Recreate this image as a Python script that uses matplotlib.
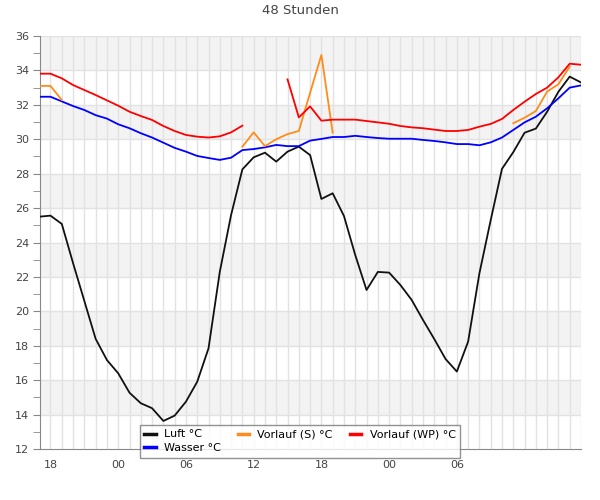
import matplotlib
matplotlib.use("Agg")
import matplotlib.pyplot as plt
import numpy as np

nan = np.nan

# hours relative to the first 18:00 tick
hours = list(range(-1, 48))

luft = [25.50, 25.56, 25.08, 22.80, 20.60, 18.40, 17.17, 16.40, 15.27, 14.66,
        14.37, 13.63, 13.94, 14.75, 15.91, 17.85, 22.30, 25.60, 28.25, 28.95,
        29.22, 28.70, 29.28, 29.57, 29.08, 26.53, 26.86, 25.54, 23.27, 21.24,
        22.29, 22.25, 21.53, 20.66, 19.50, 18.39, 17.23, 16.50, 18.24, 22.21,
        25.30, 28.28, 29.25, 30.38, 30.62, 31.60, 32.76, 33.64, 33.30]

wasser = [32.47, 32.47, 32.20, 31.93, 31.70, 31.40, 31.20, 30.87, 30.64, 30.35,
          30.10, 29.80, 29.50, 29.28, 29.03, 28.91, 28.80, 28.93, 29.37, 29.43,
          29.53, 29.67, 29.60, 29.60, 29.92, 30.02, 30.13, 30.13, 30.20, 30.13,
          30.07, 30.03, 30.03, 30.03, 29.96, 29.90, 29.82, 29.72, 29.72, 29.65,
          29.82, 30.10, 30.54, 30.98, 31.31, 31.80, 32.38, 33.00, 33.13]

vorlauf_s = [33.10, 33.10, 32.28, nan, nan, nan, nan, nan, nan, nan,
             nan, nan, nan, nan, nan, nan, nan, nan, 29.57, 30.40,
             29.60, 30.00, 30.30, 30.48, 32.70, 34.90, 30.38, nan, nan, nan,
             nan, nan, nan, nan, nan, nan, nan, nan, nan, nan,
             nan, nan, 30.93, 31.25, 31.64, 32.77, 33.20, 34.22, nan]

vorlauf_wp = [33.81, 33.81, 33.54, 33.15, 32.86, 32.57, 32.26, 31.95, 31.60, 31.35,
              31.12, 30.77, 30.48, 30.25, 30.15, 30.10, 30.17, 30.40, 30.79, nan,
              nan, nan, 33.48, 31.27, 31.91, 31.08, 31.14, 31.14, 31.14, 31.06,
              30.98, 30.90, 30.77, 30.69, 30.64, 30.56, 30.48, 30.48, 30.54, 30.73,
              30.89, 31.18, 31.70, 32.18, 32.63, 33.00, 33.60, 34.39, 34.33]

tick_hours = [0, 6, 12, 18, 24, 30, 36]
tick_labels = ["18", "00", "06", "12", "18", "00", "06"]

fig = plt.figure(figsize=(6, 5), dpi=100)
ax = fig.add_axes([40 / 600, 51 / 500, 541 / 600, 413 / 500])

ax.set_xlim(-0.93, 47.0)
ax.set_ylim(12, 36)

# alternating bands
for lo in range(14, 36, 4):
    ax.axhspan(lo, lo + 2, color="#f3f3f3", zorder=0, lw=0)

for h in range(0, 48):
    ax.axvline(h, color="#e2e2e2", lw=1, zorder=1)
for v in range(14, 37, 2):
    ax.axhline(v, color="#e2e2e2", lw=1, zorder=1)

ax.plot(hours, luft, color="#111111", lw=1.3, label="Luft °C", zorder=3)
ax.plot(hours, wasser, color="#0000ff", lw=1.3, label="Wasser °C", zorder=3)
ax.plot(hours, vorlauf_s, color="#ff8c1a", lw=1.3, label="Vorlauf (S) °C", zorder=3)
ax.plot(hours, vorlauf_wp, color="#ff0000", lw=1.3, label="Vorlauf (WP) °C", zorder=3)

ax.set_yticks(range(12, 37, 2))
ax.set_yticks(range(13, 36, 2), minor=True)
ax.set_xticks(tick_hours)
ax.set_xticklabels(tick_labels)

for s in ["top", "right"]:
    ax.spines[s].set_visible(False)
for s in ["left", "bottom"]:
    ax.spines[s].set_color("#888888")
ax.tick_params(axis="y", which="both", length=5, color="#888888",
               labelcolor="#444444", labelsize=8, pad=3)
ax.tick_params(axis="x", length=0, labelcolor="#444444", labelsize=8, pad=8)

fig.suptitle("48 Stunden", x=0.5, y=0.992, fontsize=9.5, color="#444444", va="top")

leg = fig.legend(loc="upper center", bbox_to_anchor=(0.5, 1 - 425 / 500), ncol=3,
                 fontsize=8, frameon=True, fancybox=False, handlelength=1.0,
                 handletextpad=0.75, columnspacing=1.55, borderpad=0.4,
                 borderaxespad=0, labelspacing=0.35)
leg.get_frame().set_edgecolor("#777777")
leg.get_frame().set_linewidth(1)
for line in leg.get_lines():
    line.set_linewidth(2.5)

fig.savefig("out.png", dpi=100)
